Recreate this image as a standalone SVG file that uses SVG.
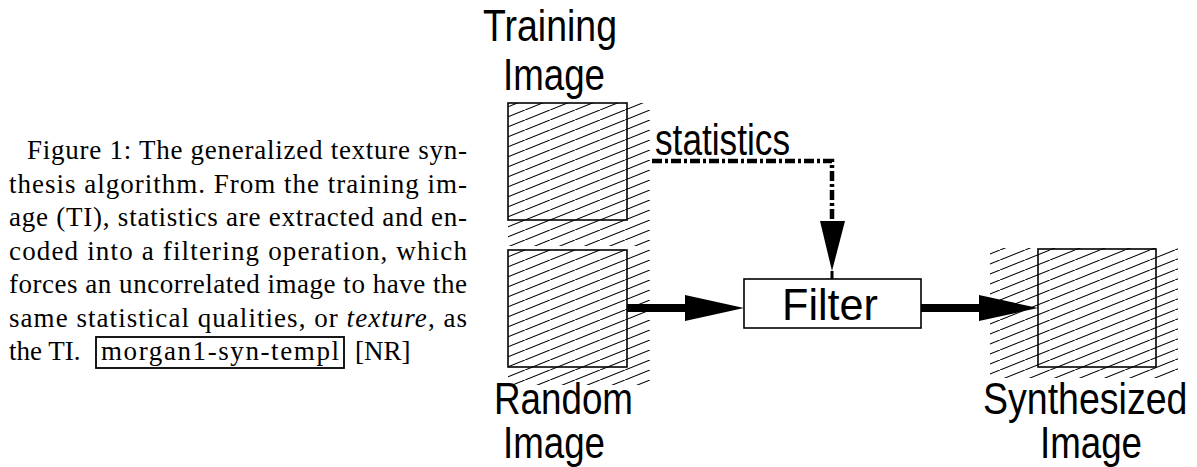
<svg xmlns="http://www.w3.org/2000/svg" width="1197" height="467" viewBox="0 0 1197 467">
<defs>
<style>
.cap{font-family:"Liberation Serif","Times New Roman",serif;font-size:27px;fill:#000}
.lbl{font-family:"Liberation Sans",Arial,sans-serif;font-size:44px;fill:#000}
.box{fill:none;stroke:#000;stroke-width:1.6}
.hatch{stroke:none}
.thick{stroke:#000;stroke-width:8;fill:none}
.dd{stroke:#000;stroke-width:4.5;fill:none;stroke-dasharray:10 3 3 3}
</style>
<pattern id="hp" patternUnits="userSpaceOnUse" width="25" height="10">
<line x1="0" y1="10" x2="25" y2="0" stroke="#000" stroke-width="1.1"/>
</pattern>
</defs>
<rect width="1197" height="467" fill="#fff"/>
<g id="caption">
<text class="cap" x="27" y="159" textLength="440" lengthAdjust="spacing">Figure 1: The generalized texture syn-</text>
<text class="cap" x="9" y="192.5" textLength="458" lengthAdjust="spacing">thesis algorithm. From the training im-</text>
<text class="cap" x="9" y="226" textLength="458" lengthAdjust="spacing">age (TI), statistics are extracted and en-</text>
<text class="cap" x="9" y="259.5" textLength="458" lengthAdjust="spacing">coded into a filtering operation, which</text>
<text class="cap" x="9" y="293" textLength="458" lengthAdjust="spacing">forces an uncorrelated image to have the</text>
<text class="cap" x="9" y="326.5" textLength="458" lengthAdjust="spacing">same statistical qualities, or <tspan font-style="italic">texture</tspan>, as</text>
<text class="cap" x="9" y="360">the TI.</text>
<rect x="96" y="337" width="248" height="31" fill="none" stroke="#000" stroke-width="1.8"/>
<text class="cap" x="101" y="360" textLength="238" lengthAdjust="spacing">morgan1-syn-templ</text>
<text class="cap" x="355" y="360">[NR]</text>
</g>
<g id="training">
<rect class="hatch" x="508" y="103" width="142" height="143" fill="url(#hp)"/>
<rect class="box" x="508" y="103" width="119" height="117"/>
<text class="lbl" x="483" y="41" textLength="134" lengthAdjust="spacingAndGlyphs">Training</text>
<text class="lbl" x="503" y="90" textLength="102" lengthAdjust="spacingAndGlyphs">Image</text>
</g>
<g id="random">
<rect class="hatch" x="508" y="250" width="142" height="135" fill="url(#hp)"/>
<rect class="box" x="508" y="250" width="119" height="117"/>
<text class="lbl" x="494" y="414" textLength="139" lengthAdjust="spacingAndGlyphs">Random</text>
<text class="lbl" x="503" y="458" textLength="102" lengthAdjust="spacingAndGlyphs">Image</text>
</g>
<g id="filter">
<rect x="744" y="279" width="177" height="49" fill="#fff" stroke="#000" stroke-width="1.6"/>
<text class="lbl" x="782" y="320" font-size="38" textLength="96" lengthAdjust="spacingAndGlyphs">Filter</text>
</g>
<g id="synthesized">
<rect class="hatch" x="990" y="248" width="188" height="130" fill="url(#hp)"/>
<rect class="box" x="1038" y="249" width="118" height="118"/>
<text class="lbl" transform="translate(983 414) scale(0.853 1)" x="0" y="0">Synthesized</text>
<text class="lbl" x="1040" y="458" textLength="102" lengthAdjust="spacingAndGlyphs">Image</text>
</g>
<g id="connectors">
<text class="lbl" x="655" y="155" font-size="40" textLength="135" lengthAdjust="spacingAndGlyphs">statistics</text>
<path class="dd" d="M652,161 H832 V224"/>
<polygon points="820,221 845,221 832,271" fill="#000"/>
<line x1="832" y1="271" x2="832" y2="279" stroke="#000" stroke-width="3"/>
<line class="thick" x1="627" y1="308" x2="700" y2="308"/>
<polygon points="685,295 744,308 685,321" fill="#000"/>
<line class="thick" x1="921" y1="308" x2="995" y2="308"/>
<polygon points="979,295 1038,308 979,321" fill="#000"/>
</g>
</svg>
